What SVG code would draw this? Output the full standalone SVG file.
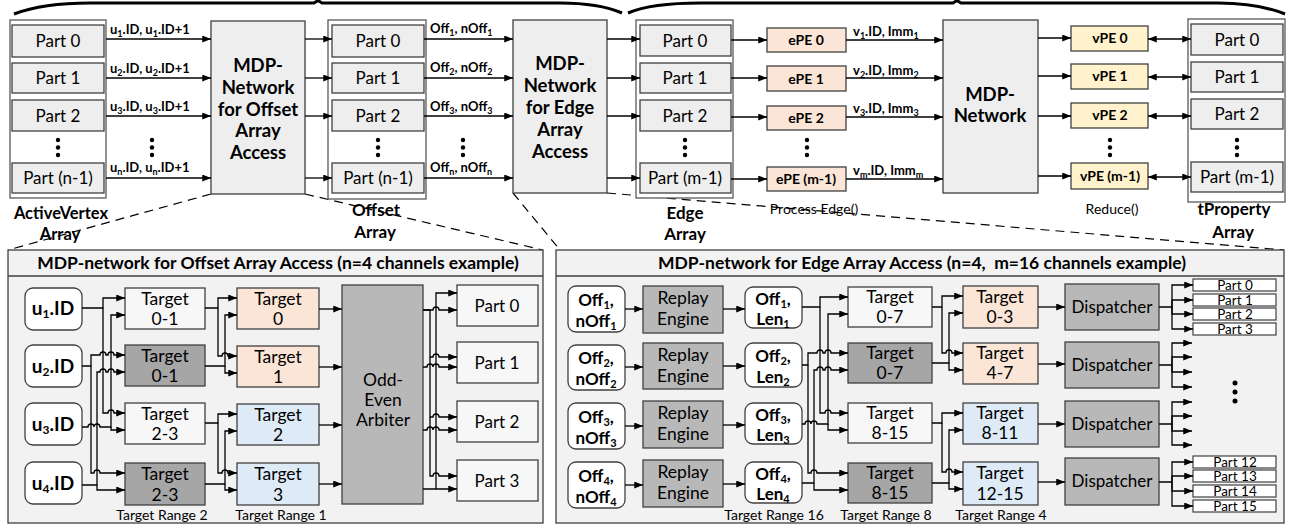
<svg xmlns="http://www.w3.org/2000/svg" width="1289" height="529" viewBox="0 0 1289 529">
<defs>
<marker id="ah" viewBox="0 0 10 8" refX="10" refY="4" markerWidth="9" markerHeight="7" orient="auto-start-reverse" markerUnits="userSpaceOnUse"><path d="M0,0 L10,4 L0,8 z" fill="#000"/></marker>
<style>
.t{font-family:Lato,"Liberation Sans",sans-serif;fill:#000}
.b{font-weight:bold}
.c{text-anchor:middle}
.bx{stroke:#404040;stroke-width:1.3}
.fr{fill:#fff;stroke:#595959;stroke-width:1.3}
.pt{fill:#eeeeee}
.lt{fill:#f7f7f7}
.dk{fill:#a6a6a6}
.md{fill:#b8b8b8}
.or{fill:#fbe5d6}
.bl{fill:#deebf7}
.ye{fill:#fff2cc}
.w{fill:none;stroke:#000;stroke-width:1.3}
.a{marker-end:url(#ah)}
.d{fill:none;stroke:#000;stroke-width:1.2;stroke-dasharray:9,6}
.s{font-size:9px}
</style>
</defs>
<rect width="1289" height="529" fill="#fff"/>

<!-- braces -->
<g id="braces" fill="none" stroke="#000" stroke-width="3">
<path d="M14,14 C35,6 60,3 90,3 L314,3 L318,0.5 L322,3 L560,3 C590,3 608,7 622,13"/>
<path d="M628,13 C642,7 668,3 700,3 L953,3 L957,0.5 L961,3 L1218,3 C1250,3 1270,8 1285,14"/>
</g>

<!-- dashed zoom lines -->
<g id="zoomlines">
<path class="d" d="M211,194 L8,250"/>
<path class="d" d="M305,194 L543,250"/>
<path class="d" d="M513,193 L560,250"/>
<path class="d" d="M607,193 L1284,250"/>
</g>

<!-- ActiveVertex Array -->
<g id="activevertex">
<rect class="fr" x="10" y="20" width="96" height="178"/>
<rect class="bx pt" x="12" y="25" width="92" height="32"/>
<rect class="bx pt" x="12" y="63" width="92" height="30"/>
<rect class="bx pt" x="12" y="100" width="92" height="31"/>
<rect class="bx pt" x="12" y="163" width="92" height="30"/>
<text class="t c" font-size="17" x="58" y="47">Part 0</text>
<text class="t c" font-size="17" x="58" y="84">Part 1</text>
<text class="t c" font-size="17" x="58" y="122">Part 2</text>
<text class="t c" font-size="17" x="58" y="184">Part (n-1)</text>
<circle cx="58" cy="140" r="2.2"/><circle cx="58" cy="147.5" r="2.2"/><circle cx="58" cy="155" r="2.2"/>
<text class="t b c" font-size="16.5" x="61" y="219">ActiveVertex</text>
<text class="t b c" font-size="16.5" x="60" y="240">Array</text>
</g>

<g id="mdp1">
<rect class="bx pt" x="211" y="21" width="94" height="173"/>
<text class="t b c" font-size="18.5" x="258" y="72">MDP-</text>
<text class="t b c" font-size="18.5" x="258" y="94">Network</text>
<text class="t b c" font-size="18.5" x="258" y="116">for Offset</text>
<text class="t b c" font-size="18.5" x="258" y="137">Array</text>
<text class="t b c" font-size="18.5" x="258" y="159">Access</text>
</g>

<g id="offsetarray">
<rect class="fr" x="328" y="20" width="98" height="179"/>
<rect class="bx pt" x="332" y="25" width="92" height="32"/>
<rect class="bx pt" x="332" y="63" width="92" height="30"/>
<rect class="bx pt" x="332" y="100" width="92" height="31"/>
<rect class="bx pt" x="332" y="163" width="92" height="30"/>
<text class="t c" font-size="17" x="378" y="47">Part 0</text>
<text class="t c" font-size="17" x="378" y="84">Part 1</text>
<text class="t c" font-size="17" x="378" y="122">Part 2</text>
<text class="t c" font-size="17" x="378" y="184">Part (n-1)</text>
<circle cx="378" cy="140" r="2.2"/><circle cx="378" cy="147.5" r="2.2"/><circle cx="378" cy="155" r="2.2"/>
<text class="t b c" font-size="17" x="376" y="216">Offset</text>
<text class="t b c" font-size="17" x="375" y="238">Array</text>
</g>

<g id="mdp2">
<rect class="bx pt" x="513" y="20" width="94" height="173"/>
<text class="t b c" font-size="18.5" x="560" y="70">MDP-</text>
<text class="t b c" font-size="18.5" x="560" y="92">Network</text>
<text class="t b c" font-size="18.5" x="560" y="114">for Edge</text>
<text class="t b c" font-size="18.5" x="560" y="136">Array</text>
<text class="t b c" font-size="18.5" x="560" y="158">Access</text>
</g>

<g id="edgearray">
<rect class="fr" x="636" y="20" width="97" height="178"/>
<rect class="bx pt" x="640" y="25" width="91" height="31"/>
<rect class="bx pt" x="640" y="63" width="91" height="30"/>
<rect class="bx pt" x="640" y="100" width="91" height="31"/>
<rect class="bx pt" x="640" y="163" width="91" height="30"/>
<text class="t c" font-size="17" x="685" y="47">Part 0</text>
<text class="t c" font-size="17" x="685" y="84">Part 1</text>
<text class="t c" font-size="17" x="685" y="122">Part 2</text>
<text class="t c" font-size="17" x="685" y="184">Part (m-1)</text>
<circle cx="685" cy="140" r="2.2"/><circle cx="685" cy="147.5" r="2.2"/><circle cx="685" cy="155" r="2.2"/>
<text class="t b c" font-size="17" x="685" y="219">Edge</text>
<text class="t b c" font-size="17" x="685" y="240">Array</text>
</g>

<g id="epes">
<rect class="bx or" x="767" y="28" width="79" height="24"/>
<rect class="bx or" x="767" y="66" width="79" height="25"/>
<rect class="bx or" x="767" y="106" width="79" height="24"/>
<rect class="bx or" x="767" y="167" width="79" height="24"/>
<text class="t b c" font-size="14" x="806" y="45">ePE 0</text>
<text class="t b c" font-size="14" x="806" y="84">ePE 1</text>
<text class="t b c" font-size="14" x="806" y="123">ePE 2</text>
<text class="t b c" font-size="14" x="806" y="184">ePE (m-1)</text>
<circle cx="807" cy="140" r="2.2"/><circle cx="807" cy="147.5" r="2.2"/><circle cx="807" cy="155" r="2.2"/>
<text class="t c" font-size="14" fill="#333" x="814" y="214">Process Edge()</text>
</g>

<g id="mdp3">
<rect class="bx pt" x="943" y="20" width="95" height="173"/>
<text class="t b c" font-size="18.5" x="990" y="101">MDP-</text>
<text class="t b c" font-size="18.5" x="990" y="122">Network</text>
</g>

<g id="vpes">
<rect class="bx ye" x="1071" y="26" width="77" height="25"/>
<rect class="bx ye" x="1071" y="64" width="77" height="25"/>
<rect class="bx ye" x="1071" y="103" width="77" height="25"/>
<rect class="bx ye" x="1071" y="163" width="77" height="26"/>
<text class="t b c" font-size="14" x="1110" y="43">vPE 0</text>
<text class="t b c" font-size="14" x="1110" y="81">vPE 1</text>
<text class="t b c" font-size="14" x="1110" y="120">vPE 2</text>
<text class="t b c" font-size="14" x="1110" y="181">vPE (m-1)</text>
<circle cx="1110" cy="140" r="2.2"/><circle cx="1110" cy="147.5" r="2.2"/><circle cx="1110" cy="155" r="2.2"/>
<text class="t c" font-size="14" fill="#333" x="1112" y="214">Reduce()</text>
</g>

<g id="tproperty">
<rect class="fr" x="1188" y="19" width="97" height="183"/>
<rect class="bx pt" x="1191" y="24" width="92" height="31"/>
<rect class="bx pt" x="1191" y="62" width="92" height="30"/>
<rect class="bx pt" x="1191" y="99" width="92" height="30"/>
<rect class="bx pt" x="1191" y="162" width="92" height="30"/>
<text class="t c" font-size="17" x="1237" y="46">Part 0</text>
<text class="t c" font-size="17" x="1237" y="83">Part 1</text>
<text class="t c" font-size="17" x="1237" y="120">Part 2</text>
<text class="t c" font-size="17" x="1237" y="183">Part (m-1)</text>
<circle cx="1237" cy="140" r="2.2"/><circle cx="1237" cy="147.5" r="2.2"/><circle cx="1237" cy="155" r="2.2"/>
<text class="t b c" font-size="17" x="1234" y="215">tProperty</text>
<text class="t b c" font-size="17" x="1233" y="238">Array</text>
</g>

<!-- top connectors -->
<g id="top-connectors">
<path class="w a" d="M106,39 H211"/><path class="w a" d="M106,78 H211"/><path class="w a" d="M106,116 H211"/><path class="w a" d="M106,178 H211"/>
<path class="w a" d="M305,39 H332"/><path class="w a" d="M305,78 H332"/><path class="w a" d="M305,116 H332"/><path class="w a" d="M305,178 H332"/>
<path class="w a" d="M424,39 H513"/><path class="w a" d="M424,78 H513"/><path class="w a" d="M424,116 H513"/><path class="w a" d="M424,178 H513"/>
<path class="w a" d="M607,39 H640"/><path class="w a" d="M607,78 H640"/><path class="w a" d="M607,116 H640"/><path class="w a" d="M607,178 H640"/>
<path class="w a" d="M731,40 H767"/><path class="w a" d="M731,78 H767"/><path class="w a" d="M731,117 H767"/><path class="w a" d="M731,179 H767"/>
<path class="w a" d="M846,40 H943"/><path class="w a" d="M846,78 H943"/><path class="w a" d="M846,117 H943"/><path class="w a" d="M846,179 H943"/>
<path class="w a" d="M1038,38 H1071"/><path class="w a" d="M1038,76 H1071"/><path class="w a" d="M1038,116 H1071"/><path class="w a" d="M1038,176 H1071"/>
<path class="w a" style="marker-start:url(#ah)" d="M1148,39 H1191"/><path class="w a" style="marker-start:url(#ah)" d="M1148,77 H1191"/><path class="w a" style="marker-start:url(#ah)" d="M1148,116 H1191"/><path class="w a" style="marker-start:url(#ah)" d="M1148,177 H1191"/>
<circle cx="152" cy="140" r="2.2"/><circle cx="152" cy="147.5" r="2.2"/><circle cx="152" cy="155" r="2.2"/>
<circle cx="463" cy="140" r="2.2"/><circle cx="463" cy="147.5" r="2.2"/><circle cx="463" cy="155" r="2.2"/>
<text class="t b" font-size="13" x="110" y="34">u<tspan class="s" dy="3">1</tspan><tspan dy="-3">.ID, u</tspan><tspan class="s" dy="3">1</tspan><tspan dy="-3">.ID+1</tspan></text>
<text class="t b" font-size="13" x="110" y="73">u<tspan class="s" dy="3">2</tspan><tspan dy="-3">.ID, u</tspan><tspan class="s" dy="3">2</tspan><tspan dy="-3">.ID+1</tspan></text>
<text class="t b" font-size="13" x="110" y="111">u<tspan class="s" dy="3">3</tspan><tspan dy="-3">.ID, u</tspan><tspan class="s" dy="3">3</tspan><tspan dy="-3">.ID+1</tspan></text>
<text class="t b" font-size="13" x="110" y="172">u<tspan class="s" dy="3">n</tspan><tspan dy="-3">.ID, u</tspan><tspan class="s" dy="3">n</tspan><tspan dy="-3">.ID+1</tspan></text>
<text class="t b" font-size="13" x="430" y="33">Off<tspan class="s" dy="3">1</tspan><tspan dy="-3">, nOff</tspan><tspan class="s" dy="3">1</tspan></text>
<text class="t b" font-size="13" x="430" y="72">Off<tspan class="s" dy="3">2</tspan><tspan dy="-3">, nOff</tspan><tspan class="s" dy="3">2</tspan></text>
<text class="t b" font-size="13" x="430" y="111">Off<tspan class="s" dy="3">3</tspan><tspan dy="-3">, nOff</tspan><tspan class="s" dy="3">3</tspan></text>
<text class="t b" font-size="13" x="430" y="172">Off<tspan class="s" dy="3">n</tspan><tspan dy="-3">, nOff</tspan><tspan class="s" dy="3">n</tspan></text>
<text class="t b" font-size="13" x="853" y="36">v<tspan class="s" dy="3">1</tspan><tspan dy="-3">.ID, Imm</tspan><tspan class="s" dy="3">1</tspan></text>
<text class="t b" font-size="13" x="853" y="75">v<tspan class="s" dy="3">2</tspan><tspan dy="-3">.ID, Imm</tspan><tspan class="s" dy="3">2</tspan></text>
<text class="t b" font-size="13" x="853" y="113">v<tspan class="s" dy="3">3</tspan><tspan dy="-3">.ID, Imm</tspan><tspan class="s" dy="3">3</tspan></text>
<text class="t b" font-size="13" x="853" y="175">v<tspan class="s" dy="3">m</tspan><tspan dy="-3">.ID, Imm</tspan><tspan class="s" dy="3">m</tspan></text>
</g>

<!-- Left panel -->
<g id="panel-offset">
<rect class="bx" fill="#f2f2f2" x="8" y="250" width="535" height="273"/>
<line x1="8" y1="276" x2="543" y2="276" stroke="#404040" stroke-width="1.3"/>
<text class="t b c" font-size="17.5" x="278" y="269">MDP-network for Offset Array Access (n=4 channels example)</text>
</g>
<g id="u-inputs">
<rect class="bx" fill="#fff" x="25" y="288" width="57" height="42" rx="8"/>
<rect class="bx" fill="#fff" x="25" y="345" width="57" height="42" rx="8"/>
<rect class="bx" fill="#fff" x="25" y="403" width="57" height="42" rx="8"/>
<rect class="bx" fill="#fff" x="25" y="462" width="57" height="42" rx="8"/>
<text class="t b c" font-size="19" x="53" y="315">u<tspan font-size="12" dy="3">1</tspan><tspan dy="-3">.ID</tspan></text>
<text class="t b c" font-size="19" x="53" y="373">u<tspan font-size="12" dy="3">2</tspan><tspan dy="-3">.ID</tspan></text>
<text class="t b c" font-size="19" x="53" y="431">u<tspan font-size="12" dy="3">3</tspan><tspan dy="-3">.ID</tspan></text>
<text class="t b c" font-size="19" x="53" y="490">u<tspan font-size="12" dy="3">4</tspan><tspan dy="-3">.ID</tspan></text>
</g>
<g id="left-targets">
<rect class="bx lt" x="125" y="288" width="80" height="41"/>
<rect class="bx dk" x="125" y="345" width="80" height="41"/>
<rect class="bx lt" x="125" y="403" width="80" height="41"/>
<rect class="bx dk" x="125" y="463" width="80" height="42"/>
<rect class="bx or" x="237" y="288" width="82" height="41"/>
<rect class="bx or" x="237" y="346" width="82" height="41"/>
<rect class="bx bl" x="237" y="404" width="82" height="41"/>
<rect class="bx bl" x="237" y="463" width="82" height="42"/>
<g class="t c" font-size="17.5">
<text x="165" y="305">Target</text><text x="165" y="325">0-1</text>
<text x="165" y="362">Target</text><text x="165" y="382">0-1</text>
<text x="165" y="420">Target</text><text x="165" y="440">2-3</text>
<text x="165" y="480">Target</text><text x="165" y="501">2-3</text>
<text x="278" y="305">Target</text><text x="278" y="325">0</text>
<text x="278" y="363">Target</text><text x="278" y="383">1</text>
<text x="278" y="421">Target</text><text x="278" y="441">2</text>
<text x="278" y="480">Target</text><text x="278" y="501">3</text>
</g>
<text class="t c" font-size="14" x="162" y="520">Target Range 2</text>
<text class="t c" font-size="14" x="281" y="520">Target Range 1</text>
</g>
<g id="arbiter">
<rect class="bx md" x="342" y="285" width="81" height="219"/>
<text class="t c" font-size="17.5" x="383" y="386">Odd-</text>
<text class="t c" font-size="17.5" x="383" y="406">Even</text>
<text class="t c" font-size="17.5" x="383" y="426">Arbiter</text>
</g>
<g id="left-parts">
<rect class="bx lt" x="457" y="285" width="81" height="41"/>
<rect class="bx lt" x="457" y="342" width="81" height="41"/>
<rect class="bx lt" x="457" y="401" width="81" height="41"/>
<rect class="bx lt" x="457" y="460" width="81" height="41"/>
<text class="t c" font-size="17" x="497" y="312">Part 0</text>
<text class="t c" font-size="17" x="497" y="369">Part 1</text>
<text class="t c" font-size="17" x="497" y="428">Part 2</text>
<text class="t c" font-size="17" x="497" y="487">Part 3</text>
</g>
<g id="left-connectors">
<path class="w a" d="M82,308 H103 V298 H125"/>
<path class="w a" d="M103,308 V413 H108 a3,3 0 0 1 6,0 H125"/>
<path class="w a" d="M82,427 H88 a3,3 0 0 1 6,0 a3,3 0 0 1 6,0 H111 V315 H125"/>
<path class="w a" d="M111,427 V430 H125"/>
<path class="w a" d="M82,366 H91 V355 H100 a3,3 0 0 1 6,0 H108 a3,3 0 0 1 6,0 H125"/>
<path class="w a" d="M91,366 V473 H94 a3,3 0 0 1 6,0 H125"/>
<path class="w a" d="M82,485 H97 V372 H100 a3,3 0 0 1 6,0 H108 a3,3 0 0 1 6,0 H125"/>
<path class="w a" d="M97,485 V490 H125"/>
<path class="w a" d="M205,308 H218 V298 H237"/>
<path class="w a" d="M218,308 V356 H222 a3,3 0 0 1 6,0 H237"/>
<path class="w a" d="M205,366 H225 V315 H237"/>
<path class="w a" d="M225,366 V373 H237"/>
<path class="w a" d="M205,423 H218 V414 H237"/>
<path class="w a" d="M218,423 V473 H222 a3,3 0 0 1 6,0 H237"/>
<path class="w a" d="M205,484 H225 V431 H237"/>
<path class="w a" d="M225,484 V490 H237"/>
<path class="w a" d="M319,309 H342"/><path class="w a" d="M319,367 H342"/><path class="w a" d="M319,425 H342"/><path class="w a" d="M319,484 H342"/>
<path class="w a" d="M423,310 H433 a3,3 0 0 1 6,0 H457"/>
<path class="w a" d="M423,310 H430 V357 H433 a3,3 0 0 1 6,0 H457"/>
<path class="w a" d="M423,367 H427 a3,3 0 0 1 6,0 a3,3 0 0 1 6,0 H457"/>
<path class="w a" d="M430,357 V417 H433 a3,3 0 0 1 6,0 H457"/>
<path class="w a" d="M423,430 H427 a3,3 0 0 1 6,0 a3,3 0 0 1 6,0 H457"/>
<path class="w a" d="M430,417 V476 H433 a3,3 0 0 1 6,0 H457"/>
<path class="w a" d="M423,489 H457"/>
<path class="w a" d="M436,489 V293 H457"/>
</g>

<!-- Right panel -->
<g id="panel-edge">
<rect class="bx" fill="#f2f2f2" x="556" y="250" width="728" height="273"/>
<line x1="556" y1="276" x2="1284" y2="276" stroke="#404040" stroke-width="1.3"/>
<text class="t b c" font-size="17.5" x="922" y="269" xml:space="preserve">MDP-network for Edge Array Access (n=4,  m=16 channels example)</text>
</g>
<g id="off-inputs">
<rect class="bx" fill="#fff" x="568" y="286" width="57" height="46" rx="8"/>
<rect class="bx" fill="#fff" x="568" y="345" width="57" height="45" rx="8"/>
<rect class="bx" fill="#fff" x="568" y="403" width="57" height="46" rx="8"/>
<rect class="bx" fill="#fff" x="568" y="462" width="57" height="46" rx="8"/>
<g class="t b c" font-size="17">
<text x="596" y="306">Off<tspan font-size="11" dy="3">1</tspan><tspan dy="-3">,</tspan></text>
<text x="596" y="327">nOff<tspan font-size="11" dy="3">1</tspan></text>
<text x="596" y="364">Off<tspan font-size="11" dy="3">2</tspan><tspan dy="-3">,</tspan></text>
<text x="596" y="385">nOff<tspan font-size="11" dy="3">2</tspan></text>
<text x="596" y="423">Off<tspan font-size="11" dy="3">3</tspan><tspan dy="-3">,</tspan></text>
<text x="596" y="444">nOff<tspan font-size="11" dy="3">3</tspan></text>
<text x="596" y="482">Off<tspan font-size="11" dy="3">4</tspan><tspan dy="-3">,</tspan></text>
<text x="596" y="503">nOff<tspan font-size="11" dy="3">4</tspan></text>
</g>
</g>
<g id="replay">
<rect class="bx md" x="643" y="286" width="80" height="47"/>
<rect class="bx md" x="643" y="343" width="80" height="46"/>
<rect class="bx md" x="643" y="401" width="80" height="47"/>
<rect class="bx md" x="643" y="460" width="80" height="47"/>
<g class="t c" font-size="17.5">
<text x="683" y="304">Replay</text><text x="683" y="325">Engine</text>
<text x="683" y="361">Replay</text><text x="683" y="382">Engine</text>
<text x="683" y="419">Replay</text><text x="683" y="440">Engine</text>
<text x="683" y="478">Replay</text><text x="683" y="499">Engine</text>
</g>
</g>
<g id="offlen">
<rect class="bx" fill="#fff" x="745" y="287" width="57" height="41" rx="8"/>
<rect class="bx" fill="#fff" x="745" y="343" width="57" height="44" rx="8"/>
<rect class="bx" fill="#fff" x="745" y="403" width="57" height="41" rx="8"/>
<rect class="bx" fill="#fff" x="745" y="462" width="57" height="41" rx="8"/>
<g class="t b c" font-size="17">
<text x="773" y="305">Off<tspan font-size="11" dy="3">1</tspan><tspan dy="-3">,</tspan></text>
<text x="773" y="325">Len<tspan font-size="11" dy="3">1</tspan></text>
<text x="773" y="362">Off<tspan font-size="11" dy="3">2</tspan><tspan dy="-3">,</tspan></text>
<text x="773" y="383">Len<tspan font-size="11" dy="3">2</tspan></text>
<text x="773" y="421">Off<tspan font-size="11" dy="3">3</tspan><tspan dy="-3">,</tspan></text>
<text x="773" y="441">Len<tspan font-size="11" dy="3">3</tspan></text>
<text x="773" y="480">Off<tspan font-size="11" dy="3">4</tspan><tspan dy="-3">,</tspan></text>
<text x="773" y="500">Len<tspan font-size="11" dy="3">4</tspan></text>
</g>
</g>
<g id="right-targets">
<rect class="bx lt" x="848" y="287" width="84" height="40"/>
<rect class="bx dk" x="848" y="343" width="84" height="40"/>
<rect class="bx lt" x="848" y="403" width="84" height="40"/>
<rect class="bx dk" x="848" y="463" width="84" height="40"/>
<rect class="bx or" x="963" y="286" width="75" height="42"/>
<rect class="bx or" x="963" y="343" width="75" height="41"/>
<rect class="bx bl" x="963" y="403" width="75" height="41"/>
<rect class="bx bl" x="963" y="462" width="75" height="43"/>
<g class="t c" font-size="17.5">
<text x="890" y="303">Target</text><text x="890" y="323">0-7</text>
<text x="890" y="359">Target</text><text x="890" y="379">0-7</text>
<text x="890" y="419">Target</text><text x="890" y="439">8-15</text>
<text x="890" y="479">Target</text><text x="890" y="499">8-15</text>
<text x="1000" y="303">Target</text><text x="1000" y="323">0-3</text>
<text x="1000" y="359">Target</text><text x="1000" y="379">4-7</text>
<text x="1000" y="419">Target</text><text x="1000" y="439">8-11</text>
<text x="1000" y="479">Target</text><text x="1000" y="500">12-15</text>
</g>
<text class="t c" font-size="14" x="774" y="520">Target Range 16</text>
<text class="t c" font-size="14" x="886" y="520">Target Range 8</text>
<text class="t c" font-size="14" x="1001" y="520">Target Range 4</text>
</g>
<g id="dispatchers">
<rect class="bx md" x="1065" y="284" width="94" height="46"/>
<rect class="bx md" x="1065" y="342" width="94" height="46"/>
<rect class="bx md" x="1065" y="401" width="94" height="46"/>
<rect class="bx md" x="1065" y="458" width="94" height="47"/>
<g class="t c" font-size="17">
<text x="1112" y="313">Dispatcher</text>
<text x="1112" y="371">Dispatcher</text>
<text x="1112" y="430">Dispatcher</text>
<text x="1112" y="487">Dispatcher</text>
</g>
</g>
<g id="out-parts">
<g fill="#fff" stroke="#404040" stroke-width="1.2">
<rect x="1193" y="279" width="83" height="12"/>
<rect x="1193" y="294" width="83" height="12"/>
<rect x="1193" y="308" width="83" height="12"/>
<rect x="1193" y="323" width="83" height="12"/>
<rect x="1193" y="456" width="83" height="12"/>
<rect x="1193" y="470" width="83" height="12"/>
<rect x="1193" y="485" width="83" height="12"/>
<rect x="1193" y="500" width="83" height="12"/>
</g>
<g class="t c" font-size="13.5">
<text x="1235" y="290">Part 0</text>
<text x="1235" y="305">Part 1</text>
<text x="1235" y="319">Part 2</text>
<text x="1235" y="334">Part 3</text>
<text x="1235" y="467">Part 12</text>
<text x="1235" y="481">Part 13</text>
<text x="1235" y="496">Part 14</text>
<text x="1235" y="511">Part 15</text>
</g>
<circle cx="1235" cy="383" r="2.5"/><circle cx="1235" cy="392" r="2.5"/><circle cx="1235" cy="401" r="2.5"/>
</g>
<g id="right-connectors">
<path class="w a" d="M625,309 H643"/><path class="w a" d="M625,367 H643"/><path class="w a" d="M625,426 H643"/><path class="w a" d="M625,485 H643"/>
<path class="w a" d="M723,309 H745"/><path class="w a" d="M723,366 H745"/><path class="w a" d="M723,425 H745"/><path class="w a" d="M723,484 H745"/>
<path class="w a" d="M802,307 H820 V297 H848"/>
<path class="w a" d="M820,307 V413 H825 a3,3 0 0 1 6,0 H848"/>
<path class="w a" d="M802,424 H805 a3,3 0 0 1 6,0 a3,3 0 0 1 6,0 H828 V314 H848"/>
<path class="w a" d="M828,424 V430 H848"/>
<path class="w a" d="M802,365 H808 V353 H817 a3,3 0 0 1 6,0 H825 a3,3 0 0 1 6,0 H848"/>
<path class="w a" d="M808,365 V473 H811 a3,3 0 0 1 6,0 H848"/>
<path class="w a" d="M802,483 H814 V370 H817 a3,3 0 0 1 6,0 H825 a3,3 0 0 1 6,0 H848"/>
<path class="w a" d="M814,483 V490 H848"/>
<path class="w a" d="M932,307 H942 V296 H963"/>
<path class="w a" d="M942,307 V353 H946 a3,3 0 0 1 6,0 H963"/>
<path class="w a" d="M932,363 H949 V313 H963"/>
<path class="w a" d="M949,363 V370 H963"/>
<path class="w a" d="M932,423 H942 V413 H963"/>
<path class="w a" d="M942,423 V472 H946 a3,3 0 0 1 6,0 H963"/>
<path class="w a" d="M932,483 H949 V430 H963"/>
<path class="w a" d="M949,483 V489 H963"/>
<path class="w a" d="M1038,307 H1065"/><path class="w a" d="M1038,364 H1065"/><path class="w a" d="M1038,424 H1065"/><path class="w a" d="M1038,482 H1065"/>
<path class="w a" d="M1159,307 H1172 V285 H1193"/><path class="w a" d="M1172,307 V300 H1193"/><path class="w a" d="M1172,307 V314 H1193"/><path class="w a" d="M1172,307 V329 H1193"/>
<path class="w a" d="M1159,365 H1172 V343 H1192"/><path class="w a" d="M1172,365 V357 H1192"/><path class="w a" d="M1172,365 V372 H1192"/><path class="w a" d="M1172,365 V387 H1192"/>
<path class="w a" d="M1159,424 H1172 V402 H1192"/><path class="w a" d="M1172,424 V416 H1192"/><path class="w a" d="M1172,424 V431 H1192"/><path class="w a" d="M1172,424 V445 H1192"/>
<path class="w a" d="M1159,482 H1172 V462 H1193"/><path class="w a" d="M1172,482 V476 H1193"/><path class="w a" d="M1172,482 V491 H1193"/><path class="w a" d="M1172,482 V506 H1193"/>
</g>
</svg>
